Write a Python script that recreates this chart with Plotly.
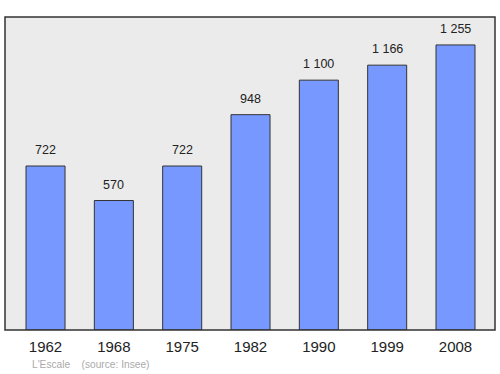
import plotly.graph_objects as go

years = ["1962", "1968", "1975", "1982", "1990", "1999", "2008"]
population = [722, 570, 722, 948, 1100, 1166, 1255]
labels = [f"{v:,}".replace(",", " ") for v in population]

fig = go.Figure()
fig.add_trace(go.Bar(
    x=list(range(len(years))), y=population, width=0.571,
    marker=dict(color="#7799ff", line=dict(color="#333333", width=1)),
    hoverinfo="skip",
))
for i, (v, t) in enumerate(zip(population, labels)):
    fig.add_annotation(x=i, y=v, text=t, showarrow=False, yanchor="bottom",
                       yshift=7, font=dict(size=12.5, color="#222222"))

fig.add_annotation(xref="paper", yref="paper", x=(30-5)/490, y=-(364-330)/313,
                   xanchor="left", yanchor="middle", showarrow=False,
                   text="L'Escale\u00a0\u00a0\u00a0\u00a0(source: Insee)",
                   font=dict(size=10.2, color="#aaaaaa"))

fig.add_shape(type="rect", xref="paper", yref="paper", x0=0, y0=0, x1=1, y1=1,
              line=dict(color="#333333", width=1.5), layer="above")

fig.update_layout(
    width=500, height=374, margin=dict(l=5, r=5, t=17, b=44),
    paper_bgcolor="white", plot_bgcolor="#ebebeb",
    font=dict(family="Liberation Sans, Arial, sans-serif", color="#222222"),
    showlegend=False,
    xaxis=dict(range=[-0.593, 6.578], tickmode="array",
               tickvals=list(range(len(years))), ticktext=years,
               showgrid=False, zeroline=False, ticks="", tickfont=dict(size=15),
               ticklabelstandoff=6),
    yaxis=dict(range=[0, 1378], visible=False, showgrid=False),
)
fig.write_html("out.html")
